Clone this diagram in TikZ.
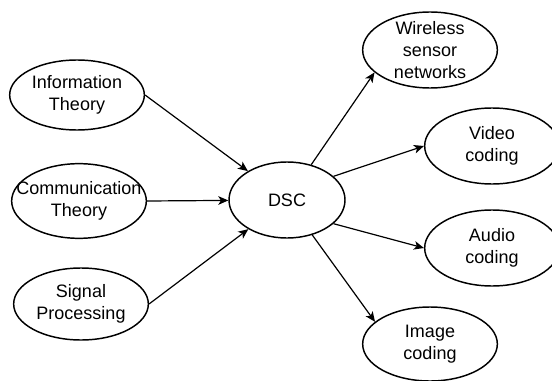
\documentclass[tikz,border=0pt]{standalone}
\usepackage{fontspec}
\setmainfont{Liberation Sans}
\usetikzlibrary{shapes.geometric,arrows.meta}
\begin{document}
\begin{tikzpicture}[x=0.75pt,y=-0.75pt,
  topic/.style={ellipse,draw,line width=1.1pt,fill=white,
    inner xsep=-18pt,inner ysep=-6pt,
    minimum width=101pt,minimum height=56pt,align=center,
    font=\fontsize{13.5}{16.5}\selectfont},
  link/.style={-{Stealth[length=7.5pt,width=6.5pt,inset=2pt]},line width=0.9pt}]
\useasboundingbox (0,0) rectangle (552,381);

% source fields
\node[topic,minimum height=52.5pt] (info) at (77,95) {Information\\Theory};
\node[topic] (comm) at (79,201) {Communication\\Theory};
\node[topic,minimum height=54pt] (sig) at (81,304) {Signal\\Processing};

% central topic
\node[topic,minimum width=87pt,minimum height=57pt] (dsc) at (287,200) {DSC};

% applications
\node[topic,minimum height=57pt] (wsn) at (430,50) {Wireless\\sensor\\networks};
\node[topic,minimum height=57pt] (video) at (492,146) {Video\\coding};
\node[topic,minimum height=57pt] (audio) at (492,248) {Audio\\coding};
\node[topic,minimum height=55.5pt] (image) at (430,344) {Image\\coding};

% incoming links
\draw[link] (info.east) -- (dsc);
\draw[link] (comm.east) -- (dsc);
\draw[link] (sig.east) -- (dsc);

% outgoing links
\draw[link] (dsc) -- (wsn.202);
\draw[link] (dsc.27) -- (video.west);
\draw[link] (dsc.-27) -- (audio.west);
\draw[link] (dsc) -- (image.158);
\end{tikzpicture}
\end{document}
